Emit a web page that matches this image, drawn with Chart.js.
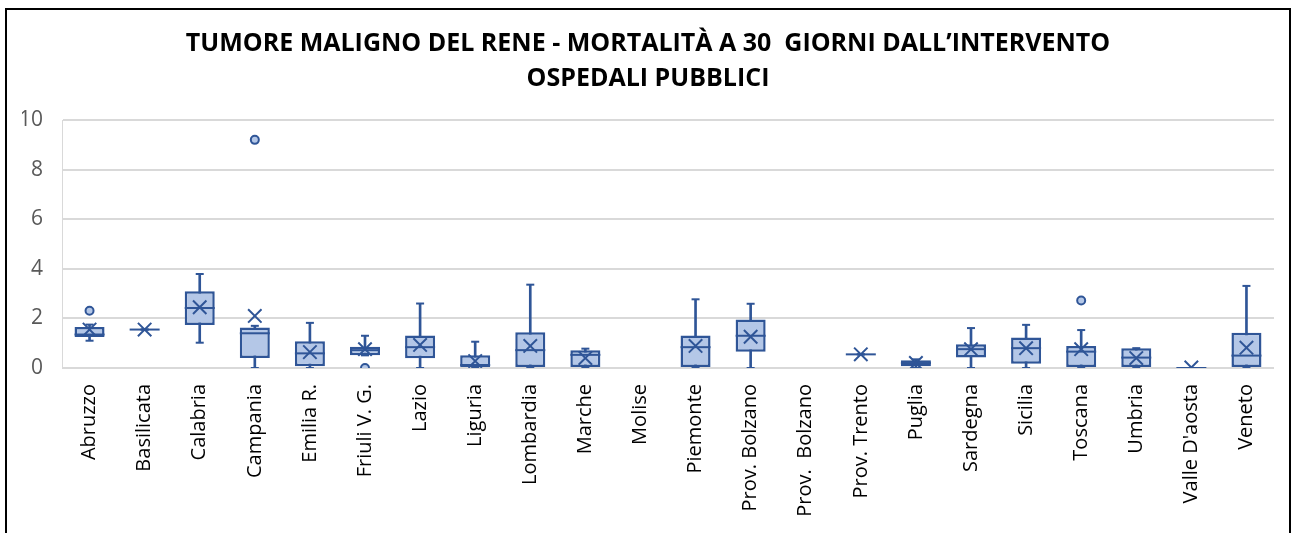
<!DOCTYPE html>
<html>
<head>
<meta charset="utf-8">
<script src="https://cdn.jsdelivr.net/npm/chart.js@4.4.1/dist/chart.umd.min.js"></script>
<style>
  html, body { margin: 0; padding: 0; background: #fff; overflow: hidden; }
  #wrap { position: relative; width: 1291px; height: 533px; }
  #frame {
    position: absolute; left: 5px; top: 8px; width: 1282px; height: 600px;
    border: 2px solid #000; border-bottom: none; pointer-events: none;
  }
  canvas { position: absolute; left: 0; top: 0; }
</style>
</head>
<body>
<div id="wrap">
  <canvas id="grafico" width="1291" height="533"></canvas>
  <div id="frame"></div>
</div>
<script>
// regioni (categorie)
const regioni = ["Abruzzo", "Basilicata", "Calabria", "Campania", "Emilia R.", "Friuli V. G.",
  "Lazio", "Liguria", "Lombardia", "Marche", "Molise", "Piemonte", "Prov. Bolzano",
  "Prov.  Bolzano", "Prov. Trento", "Puglia", "Sardegna", "Sicilia", "Toscana", "Umbria",
  "Valle D'aosta", "Veneto"];

// statistiche del box plot (mortalità %)
const minimo  = [1.10, 1.55, 1.02, 0.00, 0.00, 0.51, 0.00, 0.00, 0.00, 0.00, null, 0.00, 0.00, null, 0.55, 0.00, 0.00, 0.00, 0.00, 0.00, 0.00, 0.00];
const q1      = [1.25, 1.55, 1.73, 0.40, 0.07, 0.51, 0.39, 0.00, 0.00, 0.00, null, 0.00, 0.66, null, 0.55, 0.07, 0.42, 0.17, 0.00, 0.00, 0.00, 0.00];
const mediana = [1.35, 1.55, 2.42, 1.40, 0.59, 0.72, 0.84, 0.12, 0.72, 0.53, null, 0.84, 1.30, null, 0.55, 0.20, 0.76, 0.80, 0.66, 0.42, 0.00, 0.50];
const q3      = [1.65, 1.55, 3.09, 1.63, 1.08, 0.86, 1.31, 0.51, 1.44, 0.72, null, 1.31, 1.96, null, 0.55, 0.31, 0.96, 1.23, 0.89, 0.80, 0.00, 1.42];
const massimo = [1.75, 1.55, 3.79, 1.70, 1.82, 1.30, 2.60, 1.06, 3.36, 0.78, null, 2.77, 2.59, null, 0.55, 0.35, 1.61, 1.74, 1.53, 0.80, 0.00, 3.31];
const media   = [1.55, 1.55, 2.45, 2.10, 0.64, 0.76, 0.93, 0.28, 0.89, 0.40, null, 0.89, 1.26, null, 0.55, 0.20, 0.76, 0.80, 0.76, 0.40, 0.02, 0.82];
const outlier = [2.31, null, null, 9.20, null, 0.00, null, null, null, null, null, null, null, null, null, null, null, null, 2.72, null, null, null];

// tacche asse y
const tickY = [0, 2, 4, 6, 8, 10];

const BLU = "#2F5597";
const AZZURRO = "#B4C7E7";

const coppia = (a, b) => a.map((v, i) => (v === null ? null : [v, b[i]]));

const ctx = document.getElementById("grafico").getContext("2d");
new Chart(ctx, {
  type: "bar",
  data: {
    labels: regioni,
    datasets: [
      {
        // baffi
        type: "bar",
        data: coppia(minimo, massimo),
        backgroundColor: BLU,
        borderWidth: 0,
        barThickness: 2,
        grouped: false,
        order: 6,
      },
      {
        // scatola q1-q3
        type: "bar",
        data: coppia(q1, q3),
        backgroundColor: AZZURRO,
        borderColor: BLU,
        borderWidth: 2.5,
        borderSkipped: false,
        categoryPercentage: 1,
        barPercentage: 0.545,
        grouped: false,
        order: 5,
      },
      {
        // mediana
        type: "line",
        data: mediana,
        showLine: false,
        pointStyle: "line",
        pointRadius: 15,
        borderColor: BLU,
        borderWidth: 2,
        order: 4,
      },
      {
        // cappello superiore
        type: "line",
        data: massimo,
        showLine: false,
        pointStyle: "line",
        pointRadius: 4,
        borderColor: BLU,
        borderWidth: 2,
        order: 3,
      },
      {
        // cappello inferiore
        type: "line",
        data: minimo,
        showLine: false,
        pointStyle: "line",
        pointRadius: 4,
        borderColor: BLU,
        borderWidth: 2,
        order: 2,
      },
      {
        // media
        type: "line",
        data: media,
        showLine: false,
        pointStyle: "crossRot",
        pointRadius: 9.5,
        borderColor: BLU,
        borderWidth: 2,
        order: 1,
      },
      {
        // valori anomali
        type: "line",
        data: outlier,
        showLine: false,
        pointStyle: "circle",
        pointRadius: 4,
        backgroundColor: AZZURRO,
        borderColor: BLU,
        borderWidth: 2,
        order: 0,
      },
    ],
  },
  options: {
    responsive: false,
    animation: false,
    layout: { padding: { left: 22, right: 17, top: 0, bottom: 0 } },
    plugins: {
      legend: { display: false },
      tooltip: { enabled: false },
      title: {
        display: true,
        text: [
          "TUMORE MALIGNO DEL RENE - MORTALITÀ A 30  GIORNI DALL’INTERVENTO",
          "OSPEDALI PUBBLICI",
        ],
        color: "#000",
        font: { family: "Open Sans", size: 25, weight: "bold", lineHeight: 1.4 },
        padding: { top: 26, bottom: 24 },
      },
    },
    scales: {
      x: {
        offset: true,
        grid: { display: false },
        border: { display: false },
        ticks: {
          color: "#000",
          minRotation: 90,
          maxRotation: 90,
          autoSkip: false,
          padding: 8,
          font: { family: "Open Sans", size: 20 },
        },
        afterFit: (s) => { s.height = 165; },
      },
      y: {
        min: 0,
        max: 10,
        afterBuildTicks: (s) => { s.ticks = tickY.map((v) => ({ value: v })); },
        grid: { color: "#D9D9D9", lineWidth: 2, drawTicks: false },
        border: { display: true, color: "#D9D9D9", width: 1 },
        ticks: {
          color: "#595959",
          padding: 19,
          font: { family: "Open Sans", size: 21 },
        },
        afterFit: (s) => { s.width = 40; },
      },
    },
  },
});
</script>
</body>
</html>
